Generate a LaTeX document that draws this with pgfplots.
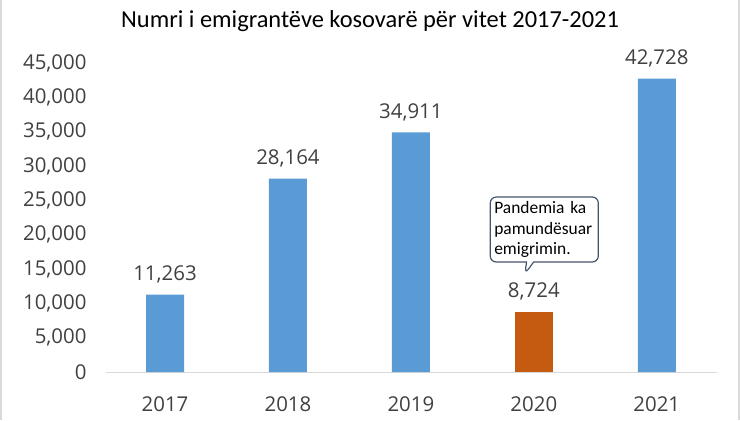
\documentclass[border=0pt]{standalone}
\usepackage{pgfplots}
\pgfplotsset{compat=1.18}
\usepackage{fontspec}
\setmainfont{Open Sans}
\newfontfamily\calibri{Carlito}
\usetikzlibrary{shapes.callouts}
\definecolor{barblue}{HTML}{5B9BD5}
\definecolor{barorange}{HTML}{C55A11}
\definecolor{txtgray}{HTML}{404040}
\definecolor{axgray}{HTML}{D9D9D9}
\definecolor{callborder}{HTML}{44546A}
\begin{document}
\begin{tikzpicture}[x=1bp,y=1bp]
\path (0,0) rectangle (740,420);
\fill[axgray] (0,0) rectangle (2,420);
\fill[axgray] (738,0) rectangle (740,420);
\node[font=\calibri\fontsize{24.5}{28}\selectfont, text=black] at (370,399) {Numri i emigrantëve kosovarë për vitet 2017-2021};
\begin{axis}[
  at={(106bp,48bp)}, anchor=south west,
  scale only axis, width=611bp, height=309bp,
  ymin=0, ymax=45000, ytick={0,5000,...,45000},
  xmin=-0.48, xmax=4.49,
  xtick={0,1,2,3,4}, xticklabels={2017,2018,2019,2020,2021},
  axis line style={draw=none},
  axis x line*=bottom, axis y line*=left,
  major tick length=0pt,
  ybar, bar width=38bp, bar shift=0pt,
  /pgf/number format/assume math mode=true,
  /pgf/number format/.cd, 1000 sep={,}, /pgfplots/.cd,
  scaled y ticks=false,
  ticklabel style={font=\fontsize{20.5}{24}\selectfont, text=txtgray},
  yticklabel style={xshift=-16bp},
  xticklabel style={yshift=-21bp},
  nodes near coords,
  nodes near coords style={font=\fontsize{20.5}{24}\selectfont, text=txtgray, yshift=8bp, /pgf/number format/assume math mode=true, /pgf/number format/1000 sep={,}},
  clip=false,
]
\draw[axgray, line width=1pt] (axis cs:-0.48,0) -- (axis cs:4.49,0);
\addplot[fill=barblue, draw=none] coordinates {(0,11263) (1,28164) (2,34911) (4,42728)};
\addplot[fill=barorange, draw=none] coordinates {(3,8724)};
\node[rectangle callout, rounded corners=6bp, draw=callborder, line width=1.2pt, fill=white,
  minimum width=108bp, minimum height=65bp, inner xsep=3bp, inner ysep=2bp,
  text width=100bp, align=left,
  font=\calibri\fontsize{17.5}{20.5}\selectfont, text=black,
  callout absolute pointer={(axis cs:2.927,14272)}]
  at (axis cs:3.085,20752) {Pandemia ka\\pamundësuar\\emigrimin.};
\end{axis}
\end{tikzpicture}
\end{document}
